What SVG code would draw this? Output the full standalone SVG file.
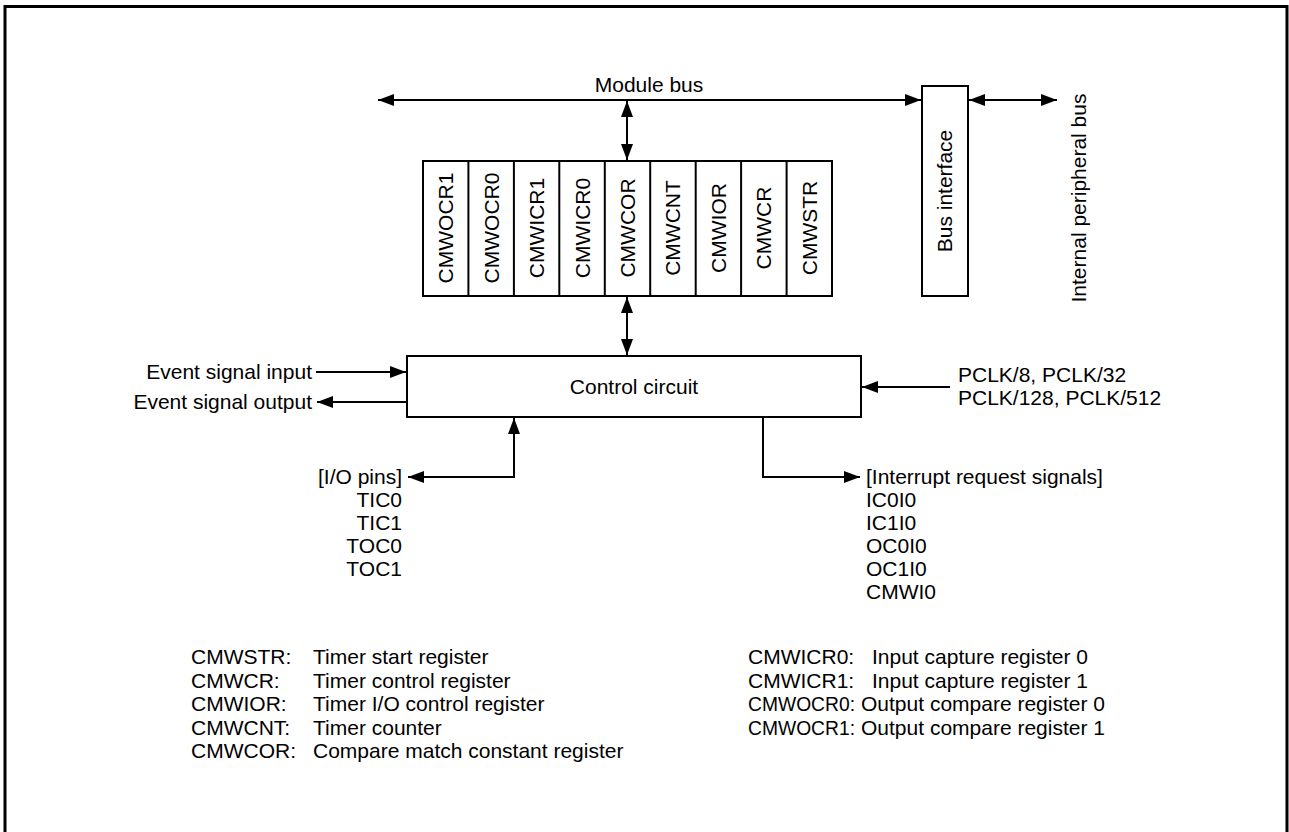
<svg xmlns="http://www.w3.org/2000/svg" width="1289" height="832" viewBox="0 0 1289 832">
<style>
text{font-family:"Liberation Sans",Arial,sans-serif;font-size:21px;fill:#000}
.box{fill:#fff;stroke:#000;stroke-width:2}
.ln{fill:none;stroke:#000;stroke-width:2}
.e{text-anchor:end}
.m{text-anchor:middle}
</style>
<defs>
<marker id="ah" viewBox="0 0 16 12" refX="16" refY="6" markerWidth="16" markerHeight="12" markerUnits="userSpaceOnUse" orient="auto-start-reverse">
<path d="M0,0 L16,6 L0,12 Z" fill="#000"/>
</marker>
</defs>
<rect width="1289" height="832" fill="#fff"/>
<path d="M5,832 V6.5 H1287 V832" fill="none" stroke="#000" stroke-width="3"/>

<g id="connectors">
<line class="ln" x1="378" y1="100" x2="921" y2="100" marker-start="url(#ah)" marker-end="url(#ah)"/>
<line class="ln" x1="969" y1="100" x2="1057" y2="100" marker-start="url(#ah)" marker-end="url(#ah)"/>
<line class="ln" x1="627" y1="101" x2="627" y2="160" marker-start="url(#ah)" marker-end="url(#ah)"/>
<line class="ln" x1="627" y1="297" x2="627" y2="355" marker-start="url(#ah)" marker-end="url(#ah)"/>
<line class="ln" x1="316" y1="372" x2="406" y2="372" marker-end="url(#ah)"/>
<line class="ln" x1="407" y1="402" x2="317" y2="402" marker-end="url(#ah)"/>
<line class="ln" x1="950" y1="387" x2="862" y2="387" marker-end="url(#ah)"/>
<path class="ln" d="M408,477 H514 V418" marker-start="url(#ah)" marker-end="url(#ah)"/>
<path class="ln" d="M763,417 V477 H860" marker-end="url(#ah)"/>
</g>

<g id="module-bus-label"><text class="m" x="649" y="92">Module bus</text></g>

<g id="bus-interface">
<rect class="box" x="922" y="86" width="46" height="210"/>
<text class="m" transform="translate(952,191) rotate(-90)">Bus interface</text>
</g>
<g id="internal-bus-label">
<text class="m" transform="translate(1086,198) rotate(-90)">Internal peripheral bus</text>
</g>

<g id="registers">
<rect class="box" x="423" y="161" width="409" height="135"/>
<path class="ln" d="M468.4,161V296M513.9,161V296M559.3,161V296M604.8,161V296M650.2,161V296M695.7,161V296M741.1,161V296M786.6,161V296"/>
<text class="m" transform="translate(453.2,228) rotate(-90)">CMWOCR1</text>
<text class="m" transform="translate(498.6,228) rotate(-90)">CMWOCR0</text>
<text class="m" transform="translate(544.1,228) rotate(-90)">CMWICR1</text>
<text class="m" transform="translate(589.5,228) rotate(-90)">CMWICR0</text>
<text class="m" transform="translate(635,228) rotate(-90)">CMWCOR</text>
<text class="m" transform="translate(680.4,228) rotate(-90)">CMWCNT</text>
<text class="m" transform="translate(725.9,228) rotate(-90)">CMWIOR</text>
<text class="m" transform="translate(771.3,228) rotate(-90)">CMWCR</text>
<text class="m" transform="translate(816.8,228) rotate(-90)">CMWSTR</text>
</g>

<g id="control-circuit">
<rect class="box" x="407" y="356" width="454" height="61"/>
<text class="m" x="634" y="394">Control circuit</text>
</g>

<g id="event-labels">
<text class="e" x="312" y="379">Event signal input</text>
<text class="e" x="312" y="409">Event signal output</text>
</g>

<g id="pclk-label">
<text x="958" y="382">PCLK/8, PCLK/32</text>
<text x="958" y="405">PCLK/128, PCLK/512</text>
</g>

<g id="io-pins">
<text class="e" x="402" y="484">[I/O pins]</text>
<text class="e" x="402" y="507">TIC0</text>
<text class="e" x="402" y="530">TIC1</text>
<text class="e" x="402" y="553">TOC0</text>
<text class="e" x="402" y="576">TOC1</text>
</g>

<g id="interrupts">
<text x="866" y="484">[Interrupt request signals]</text>
<text x="866" y="507">IC0I0</text>
<text x="866" y="530">IC1I0</text>
<text x="866" y="553">OC0I0</text>
<text x="866" y="576">OC1I0</text>
<text x="866" y="599">CMWI0</text>
</g>

<g id="legend-left">
<text x="191" y="664">CMWSTR:</text><text x="313" y="664">Timer start register</text>
<text x="191" y="687.5">CMWCR:</text><text x="313" y="687.5">Timer control register</text>
<text x="191" y="711">CMWIOR:</text><text x="313" y="711">Timer I/O control register</text>
<text x="191" y="734.5">CMWCNT:</text><text x="313" y="734.5">Timer counter</text>
<text x="191" y="758">CMWCOR:</text><text x="313" y="758">Compare match constant register</text>
</g>

<g id="legend-right">
<text x="748" y="664">CMWICR0:</text><text x="872" y="664">Input capture register 0</text>
<text x="748" y="687.5">CMWICR1:</text><text x="872" y="687.5">Input capture register 1</text>
<text x="748" y="711" textLength="107" lengthAdjust="spacingAndGlyphs">CMWOCR0:</text><text x="861" y="711">Output compare register 0</text>
<text x="748" y="734.5" textLength="107" lengthAdjust="spacingAndGlyphs">CMWOCR1:</text><text x="861" y="734.5">Output compare register 1</text>
</g>
</svg>
